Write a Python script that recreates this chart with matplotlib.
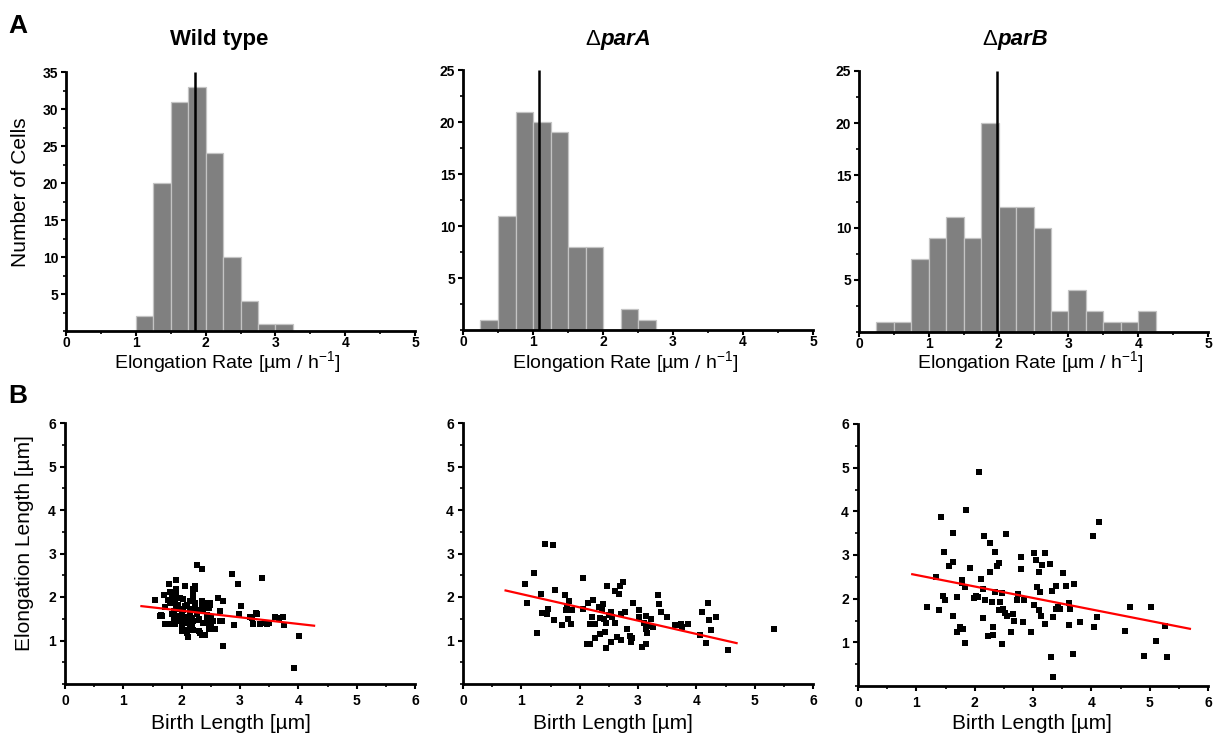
import numpy as np
import matplotlib
matplotlib.use('Agg')
import matplotlib.pyplot as plt
from matplotlib.ticker import MultipleLocator

plt.rcParams['font.family'] = ['Liberation Sans', 'DejaVu Sans']
plt.rcParams['mathtext.fontset'] = 'custom'
plt.rcParams['mathtext.rm'] = 'Liberation Sans'
plt.rcParams['mathtext.it'] = 'Liberation Sans:italic'
plt.rcParams['mathtext.bf'] = 'Liberation Sans:bold'

# ---------------- data ----------------
wt_edges = [1.0, 1.25, 1.5, 1.75, 2.0, 2.25, 2.5, 2.75, 3.0, 3.25]
wt_counts = [2, 20, 31, 33, 24, 10, 4, 1, 1]
wt_mean = 1.85

parA_edges = [0.25, 0.5, 0.75, 1.0, 1.25, 1.5, 1.75, 2.0, 2.25, 2.5, 2.75]
parA_counts = [1, 11, 21, 20, 19, 8, 8, 0, 2, 1]
parA_mean = 1.09

parB_edges = [0.25, 0.5, 0.75, 1.0, 1.25, 1.5, 1.75, 2.0, 2.25, 2.5, 2.75,
              3.0, 3.25, 3.5, 3.75, 4.0, 4.25]
parB_counts = [1, 1, 7, 9, 11, 9, 20, 12, 12, 10, 2, 4, 2, 1, 1, 2]
parB_mean = 1.98

wt_birth = [1.54, 1.63, 1.67, 1.69, 1.79, 1.80, 1.90, 1.72, 1.80, 1.88, 1.80, 1.86, 1.89,
            1.91, 1.91, 1.83, 1.94, 1.97, 2.00, 2.00, 2.03, 2.06, 2.06, 2.09, 2.09, 2.10,
            2.14, 2.17, 2.19, 2.20, 2.22, 2.23, 2.26, 2.26, 2.29, 2.31, 2.35, 2.34, 2.37,
            2.40, 2.42, 2.46, 2.47, 2.49, 2.51, 2.57, 2.63, 2.66, 2.69, 2.70, 2.71, 2.86,
            2.90, 2.97, 2.99, 3.01, 3.17, 3.23, 3.27, 3.34, 3.37, 3.43, 3.49, 3.60, 3.74,
            3.75, 4.01, 3.93, 1.71, 1.77, 1.83, 1.86, 1.94, 1.97, 2.03, 2.09, 2.14, 2.20,
            2.23, 2.31, 2.34, 2.40, 2.43, 2.51, 1.97, 2.09, 2.14, 1.86, 1.91, 2.00, 2.03,
            2.00, 2.06, 2.00, 2.11, 2.17, 2.20, 2.14, 2.19, 2.30, 2.29, 2.34, 2.37, 2.46,
            2.49, 2.43, 2.49, 2.46, 2.54, 2.66, 2.98, 3.20, 3.29, 3.47, 3.66, 1.81, 1.91,
            2.23, 1.65]
wt_elong = [1.92, 1.56, 1.56, 2.05, 2.29, 2.11, 2.38, 1.38, 1.38, 1.38, 1.87, 1.95, 1.87,
            2.18, 1.76, 1.60, 1.56, 1.72, 1.49, 1.30, 1.95, 2.25, 1.79, 1.53, 1.18, 1.07,
            1.72, 1.30, 2.18, 1.95, 2.25, 1.87, 2.73, 1.60, 1.49, 1.18, 2.65, 1.76, 1.41,
            1.12, 1.87, 1.53, 1.27, 1.87, 1.41, 1.27, 1.98, 1.68, 1.45, 1.91, 0.87, 2.52,
            1.35, 2.29, 1.60, 1.79, 1.53, 1.37, 1.63, 1.37, 2.44, 1.41, 1.41, 1.55, 1.53,
            1.35, 1.10, 0.36, 1.78, 1.94, 2.01, 1.67, 1.82, 1.98, 1.71, 1.82, 1.90, 2.05,
            1.75, 1.71, 1.90, 1.75, 1.44, 1.52, 1.44, 1.40, 1.63, 1.52, 1.44, 1.59, 1.48,
            1.36, 1.25, 1.21, 1.55, 1.52, 1.44, 1.32, 1.25, 1.48, 1.21, 1.13, 1.71, 1.75,
            1.82, 1.59, 1.48, 1.38, 1.44, 1.44, 1.62, 1.52, 1.61, 1.38, 1.52, 2.11, 2.07,
            2.18, 1.58]
wt_fit_x = [1.31, 4.27]
wt_fit_y = [1.79, 1.34]

parA_birth = [1.07, 1.10, 1.22, 1.27, 1.33, 1.36, 1.40, 1.44, 1.45, 1.55, 1.57, 1.56, 1.69,
              1.74, 1.76, 1.78, 1.80, 1.82, 1.85, 1.87, 2.06, 2.06, 2.13, 2.15, 2.17, 2.17,
              2.21, 2.22, 2.26, 2.27, 2.33, 2.34, 2.35, 2.38, 2.40, 2.41, 2.43, 2.45, 2.45,
              2.47, 2.50, 2.53, 2.53, 2.56, 2.60, 2.61, 2.64, 2.67, 2.69, 2.71, 2.71, 2.74,
              2.78, 2.81, 2.86, 2.88, 2.90, 2.91, 3.01, 3.01, 3.07, 3.11, 3.13, 3.13, 3.14,
              3.15, 3.20, 3.23, 3.26, 3.35, 3.36, 3.40, 3.50, 3.63, 3.66, 3.74, 3.76, 3.86,
              4.06, 4.09, 4.17, 4.20, 4.21, 4.25, 4.34, 4.54, 5.33]
parA_elong = [2.31, 1.87, 2.55, 1.17, 2.08, 1.63, 3.22, 1.60, 1.73, 3.19, 2.15, 1.47, 1.36,
              2.04, 1.70, 1.76, 1.49, 1.91, 1.39, 1.70, 2.44, 1.72, 0.91, 1.87, 1.37, 0.92,
              1.55, 1.92, 1.05, 1.37, 1.78, 1.51, 1.15, 1.69, 1.83, 1.49, 1.19, 1.40, 0.82,
              2.26, 1.59, 0.97, 1.66, 1.55, 1.40, 2.14, 1.07, 2.06, 2.25, 1.02, 1.60, 2.35,
              1.66, 1.26, 1.11, 0.97, 1.05, 1.87, 1.70, 1.55, 0.84, 1.41, 1.27, 0.92, 1.57,
              1.17, 1.34, 1.49, 1.30, 2.04, 1.85, 1.66, 1.53, 1.36, 1.36, 1.37, 1.30, 1.37,
              1.12, 1.66, 0.95, 1.87, 1.47, 1.23, 1.53, 0.79, 1.26]
parA_fit_x = [0.73, 4.69]
parA_fit_y = [2.15, 0.94]

parB_birth = [1.19, 1.39, 1.33, 1.43, 1.46, 1.48, 1.49, 1.56, 1.63, 1.63, 1.63, 1.69, 1.70,
              1.74, 1.79, 1.79, 1.80, 1.83, 1.83, 1.85, 1.92, 1.98, 2.02, 2.06, 2.08, 2.10,
              2.14, 2.15, 2.16, 2.18, 2.22, 2.26, 2.26, 2.30, 2.32, 2.32, 2.34, 2.34, 2.39,
              2.42, 2.41, 2.44, 2.46, 2.47, 2.49, 2.52, 2.53, 2.56, 2.62, 2.66, 2.67, 2.72,
              2.75, 2.80, 2.80, 2.83, 2.85, 2.97, 3.01, 3.01, 3.05, 3.06, 3.10, 3.11, 3.12,
              3.13, 3.16, 3.20, 3.20, 3.29, 3.31, 3.33, 3.34, 3.35, 3.39, 3.40, 3.43, 3.47,
              3.51, 3.57, 3.61, 3.62, 3.64, 3.68, 3.70, 3.80, 4.02, 4.05, 4.10, 4.13, 4.58,
              4.67, 4.91, 5.03, 5.11, 5.26, 5.30]
parB_elong = [1.80, 1.74, 2.49, 3.87, 2.07, 3.06, 1.98, 2.74, 3.50, 2.83, 1.61, 2.04, 1.23,
              1.35, 2.37, 2.42, 1.31, 2.27, 0.98, 4.04, 2.71, 2.01, 2.05, 2.03, 4.90, 2.45,
              1.56, 2.22, 3.44, 1.96, 1.15, 3.27, 2.60, 1.93, 1.36, 1.17, 2.15, 3.06, 2.75,
              2.82, 1.73, 1.92, 2.13, 0.96, 1.76, 1.67, 3.47, 1.60, 1.23, 1.66, 1.50, 1.98,
              2.11, 2.95, 2.69, 1.47, 1.96, 1.23, 1.85, 3.04, 2.89, 2.26, 2.62, 1.74, 2.15,
              1.60, 2.76, 1.41, 3.04, 2.79, 0.66, 2.17, 0.21, 1.57, 2.30, 1.77, 1.81, 1.77,
              2.58, 2.30, 1.39, 1.90, 1.77, 0.74, 2.34, 1.47, 3.44, 1.34, 1.58, 3.76, 1.25,
              1.82, 0.68, 1.82, 1.04, 1.37, 0.66]
parB_fit_x = [0.93, 5.69]
parB_fit_y = [2.56, 1.31]

hist_xticks = [0, 1, 2, 3, 4, 5]
scat_xticks = [0, 1, 2, 3, 4, 5, 6]
scat_yticks = [1, 2, 3, 4, 5, 6]

# ---------------- figure ----------------
W, H = 1214, 738
fig = plt.figure(figsize=(W / 100, H / 100), dpi=100)
TICK_FS = 10


def px_axes(l, t, r, b):
    return fig.add_axes([l / W, 1 - b / H, (r - l) / W, (b - t) / H])


def style(ax, pad_x, pad_y):
    for s in ['top', 'right']:
        ax.spines[s].set_visible(False)
    for s in ['left', 'bottom']:
        ax.spines[s].set_linewidth(2.0)
    ax.tick_params(which='major', direction='out', length=3.5, width=1.5,
                   colors='black')
    ax.tick_params(axis='x', which='major', pad=pad_x)
    ax.tick_params(axis='y', which='major', pad=pad_y)
    ax.tick_params(which='minor', direction='out', length=2.2, width=1.2)


def set_ticks(ax, xt, yt):
    ax.set_xticks(xt)
    ax.set_xticklabels([str(t) for t in xt], fontweight='bold', fontsize=TICK_FS)
    ax.set_yticks(yt)
    ax.set_yticklabels([str(t) for t in yt], fontweight='bold', fontsize=TICK_FS)


def hist_panel(box, edges, counts, mean, ymax, yticks):
    ax = px_axes(*box)
    e = np.asarray(edges)
    ax.bar(e[:-1], counts, width=np.diff(e), align='edge',
           color='#808080', edgecolor='#c4c4c4', linewidth=0.9, zorder=2)
    ax.vlines(mean, 0, ymax, color='black', linewidth=1.8, zorder=3)
    ax.set_xlim(0, 5)
    ax.set_ylim(0, ymax)
    style(ax, 0.3, 2)
    set_ticks(ax, hist_xticks, yticks)
    ax.xaxis.set_minor_locator(MultipleLocator(0.5))
    ax.yaxis.set_minor_locator(MultipleLocator(2.5))
    return ax


def scatter_panel(box, bx, ey, fx, fy):
    ax = px_axes(*box)
    ax.scatter(bx, ey, marker='s', s=13, color='black', linewidths=0, zorder=3)
    ax.plot(fx, fy, color='#ff0000', linewidth=1.6, zorder=4)
    ax.set_xlim(0, 6)
    ax.set_ylim(0, 6)
    style(ax, 4, 3)
    set_ticks(ax, scat_xticks, scat_yticks)
    ax.xaxis.set_minor_locator(MultipleLocator(0.5))
    ax.yaxis.set_minor_locator(MultipleLocator(0.5))
    return ax


hist_panel((66, 72, 415, 331), wt_edges, wt_counts, wt_mean, 35, [5, 10, 15, 20, 25, 30, 35])
hist_panel((463, 70, 813, 330), parA_edges, parA_counts, parA_mean, 25, [5, 10, 15, 20, 25])
hist_panel((859, 71, 1208, 332), parB_edges, parB_counts, parB_mean, 25, [5, 10, 15, 20, 25])

scatter_panel((65, 423, 415, 684), wt_birth, wt_elong, wt_fit_x, wt_fit_y)
scatter_panel((463, 423, 813, 684), parA_birth, parA_elong, parA_fit_x, parA_fit_y)
scatter_panel((858, 424, 1208, 686), parB_birth, parB_elong, parB_fit_x, parB_fit_y)


def ftext(x, y, s, **kw):
    return fig.text(x / W, 1 - y / H, s, **kw)


# panel letters
ftext(8, 33, 'A', fontsize=19, fontweight='bold', ha='left', va='baseline')
ftext(8, 403, 'B', fontsize=19, fontweight='bold', ha='left', va='baseline')

# titles
ftext(219.5, 45, 'Wild type', fontsize=16, fontweight='bold', ha='center', va='baseline')
ftext(600, 45, '\u0394', fontsize=16, ha='right', va='baseline')
ftext(600, 45, 'parA', fontsize=16, fontweight='bold', fontstyle='italic', ha='left', va='baseline')
ftext(997, 45, '\u0394', fontsize=16, ha='right', va='baseline')
ftext(997, 45, 'parB', fontsize=16, fontweight='bold', fontstyle='italic', ha='left', va='baseline')

# axis labels
xl_hist = 'Elongation Rate [\u00b5m / h$^{\\mathregular{-1}}$]'
for cx in (227, 625, 1030):
    ftext(cx, 368, xl_hist, fontsize=14, ha='center', va='baseline')
for cx in (231, 613, 1032):
    ftext(cx, 729, 'Birth Length [\u00b5m]', fontsize=15, ha='center', va='baseline')
ftext(21, 192, 'Number of Cells', fontsize=15, rotation=90, ha='center', va='center')
ftext(25, 543, 'Elongation Length [\u00b5m]', fontsize=15, rotation=90, ha='center', va='center')

fig.savefig('out.png', dpi=100)
